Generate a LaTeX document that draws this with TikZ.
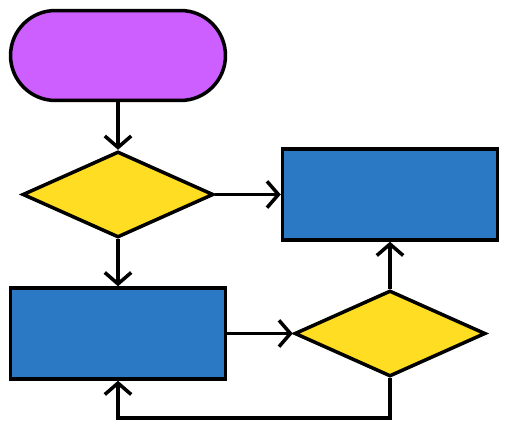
\documentclass[tikz,border=0pt]{standalone}
\usetikzlibrary{shapes.geometric,arrows.meta}
\definecolor{startpurple}{RGB}{205,94,255}
\definecolor{decyellow}{RGB}{255,221,34}
\definecolor{procblue}{RGB}{43,121,196}
\tikzset{
  shapeline/.style={draw=black,line width=2pt,inner sep=0pt},
  startbox/.style={shapeline,rectangle,rounded corners=0.9cm,fill=startpurple,minimum width=4.3cm,minimum height=1.8cm},
  procbox/.style={shapeline,rectangle,fill=procblue,minimum width=4.3cm,minimum height=1.82cm},
  decbox/.style={shapeline,diamond,fill=decyellow,minimum width=3.82cm,minimum height=1.72cm},
  flow/.style={line width=2pt,-{Straight Barb[length=6.5pt,width=15pt,line width=2pt]}}
}
\begin{document}
\begin{tikzpicture}[x=0.02cm,y=-0.02cm]
\useasboundingbox (0,0) rectangle (508,429);
\node[startbox] (start) at (118,55.5) {};
\node[decbox] (dec1) at (118,194.5) {};
\node[procbox] (proc1) at (390,194.5) {};
\node[procbox] (proc2) at (118,333.5) {};
\node[decbox] (dec2) at (390,333.5) {};
\foreach \a/\b in {start.south/dec1.north,dec1.east/proc1.west,dec1.south/proc2.north,proc2.east/dec2.west,dec2.north/proc1.south}{\draw[flow](\a)--(\b);}
%loop back
\draw[flow](dec2.south)--++(0,40)-|(proc2.south);
\end{tikzpicture}
\end{document}
